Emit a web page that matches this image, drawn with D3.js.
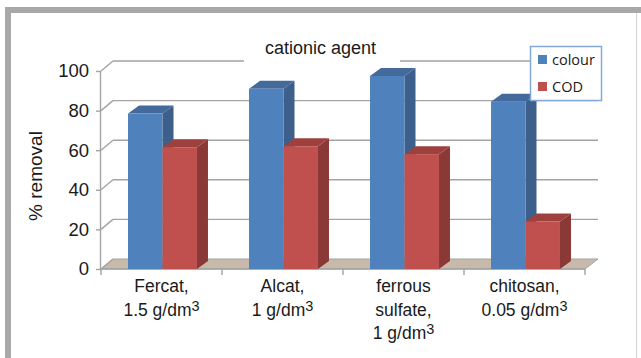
<!DOCTYPE html>
<html><head><meta charset="utf-8">
<script src="https://cdn.jsdelivr.net/npm/d3@7"></script>
<style>body{margin:0;background:#fff}svg{display:block}text{font-family:"Liberation Sans",Arial,sans-serif;fill:#1a1a1a}</style>
</head><body><svg id="c" width="641" height="358"></svg>
<script>
const categories = [["Fercat,","1.5 g/dm|3"],["Alcat,","1 g/dm|3"],["ferrous","sulfate,","1 g/dm|3"],["chitosan,","0.05 g/dm|3"]];
const seriesNames = ["colour","COD"];
const colourValues = [78.5, 91, 97.5, 84.5];
const codValues = [61.5, 62, 58, 24];
const yTicks = [0,20,40,60,80,100];
const title = "cationic agent";
const yTitle = "% removal";

const svg = d3.select("#c");
// frame
svg.append("rect").attr("x",5).attr("y",7).attr("width",636).attr("height",6).attr("fill","#a8a8ab");
svg.append("rect").attr("x",5).attr("y",7).attr("width",6).attr("height",351).attr("fill","#a8a8ab");
svg.append("line").attr("x1",636.5).attr("x2",636.5).attr("y1",13).attr("y2",358).attr("stroke","#d4d4d4");

const X0=101, X1=585, Y0=269, Y100=71, DX=12, DY=-10;
const y = d3.scaleLinear().domain([0,100]).range([Y0,Y100]);
const x0 = d3.scaleBand().domain(d3.range(categories.length)).range([X0,X1]);
const bw = x0.bandwidth();
const x1 = d3.scaleBand().domain(seriesNames).range([bw*0.215+1, bw*0.785+1]);
const grid="#a3a3a3";

// floor
svg.append("polygon").attr("points",[[X0,Y0],[X1,Y0],[X1+DX+1,Y0+DY],[X0+DX,Y0+DY]].join(" "))
  .attr("fill","#c9b9aa").attr("stroke",grid).attr("stroke-width",1);
// back wall gridlines + left wall obliques
yTicks.forEach(v=>{
  const yy=y(v);
  if(v>0) svg.append("line").attr("x1",X0+DX).attr("x2",X1+DX+1).attr("y1",yy+DY).attr("y2",yy+DY).attr("stroke",grid).attr("stroke-width",1.4);
  svg.append("line").attr("x1",X0).attr("x2",X0+DX).attr("y1",yy).attr("y2",yy+DY).attr("stroke",grid).attr("stroke-width",1.4);
});
// title box
svg.append("rect").attr("x",244).attr("y",28).attr("width",156).attr("height",38).attr("fill","#fff");
svg.append("text").attr("x",320.5).attr("y",54).attr("text-anchor","middle").style("font-size","18px").text(title);

// y axis
const yAxis = d3.axisLeft(y).tickValues(yTicks).tickSize(5).tickPadding(7);
const ga = svg.append("g").attr("transform",`translate(${X0},0)`).call(yAxis);
ga.select(".domain").attr("stroke",grid).attr("stroke-width",1.4).attr("d",`M-0.5,${Y100}V${Y0}`);
ga.selectAll(".tick line").attr("stroke",grid).attr("stroke-width",1.4);
ga.selectAll(".tick text").style("font-size","18.5px").style("font-family","Liberation Sans,Arial,sans-serif").attr("fill","#1a1a1a");
// x axis line
const xAxis = d3.axisBottom(x0).tickSize(0).tickFormat("");
const gx = svg.append("g").attr("transform",`translate(0,${Y0})`).call(xAxis);
gx.select(".domain").attr("stroke",grid).attr("stroke-width",1.4).attr("d",`M${X0},0H${X1}`);
const bounds = categories.map((c,i)=>x0(i)).concat([X1]);
bounds.forEach(b=>gx.append("line").attr("x1",b).attr("x2",b).attr("y1",0).attr("y2",6).attr("stroke",grid).attr("stroke-width",1.4));

// bars
const colors = {colour:{front:"#4f81bd",side:"#3c5f8b",top:"#44699b"}, COD:{front:"#c0504d",side:"#8b3937",top:"#9e413e"}};
const bdx=11, bdy=-8;
categories.forEach((c,i)=>{
  [["colour",colourValues[i]],["COD",codValues[i]]].forEach(([s,v])=>{
    const bx = x0(i)+x1(s), w = x1.bandwidth(), yt=y(v), yb=y(0);
    const g = svg.append("g");
    g.append("polygon").attr("points",[[bx+w,yt],[bx+w+bdx,yt+bdy],[bx+w+bdx,yb+bdy],[bx+w,yb]].join(" ")).attr("fill",colors[s].side);
    g.append("polygon").attr("points",[[bx,yt],[bx+bdx,yt+bdy],[bx+w+bdx,yt+bdy],[bx+w,yt]].join(" ")).attr("fill",colors[s].top);
    g.append("rect").attr("x",bx).attr("y",yt).attr("width",w).attr("height",yb-yt).attr("fill",colors[s].front);
  });
  // labels
  const t = svg.append("text").attr("text-anchor","middle").style("font-size","17.5px");
  c.forEach((line,j)=>{
    const [main,sup] = line.split("|");
    t.append("tspan").attr("x",x0(i)+bw/2).attr("y",292+j*23.5).text(main);
    if(sup) t.append("tspan").attr("dy",-5).style("font-size","14.5px").text(sup);
  });
});
// y title
svg.append("text").attr("transform","translate(42,176) rotate(-90)").attr("text-anchor","middle").style("font-size","19px").text(yTitle);

// legend
const lg = svg.append("g");
lg.append("rect").attr("x",530.5).attr("y",46.5).attr("width",71).attr("height",54).attr("fill","#fff").attr("stroke","#84a9d9").attr("stroke-width",1.5);
seriesNames.forEach((s,i)=>{
  lg.append("rect").attr("x",538).attr("y",55+i*27).attr("width",9).attr("height",9).attr("fill",colors[s].front);
  lg.append("text").attr("x",552).attr("y",65+i*27).style("font-family","'Open Sans',sans-serif").style("font-size","14.5px").text(s);
});
</script></body></html>
